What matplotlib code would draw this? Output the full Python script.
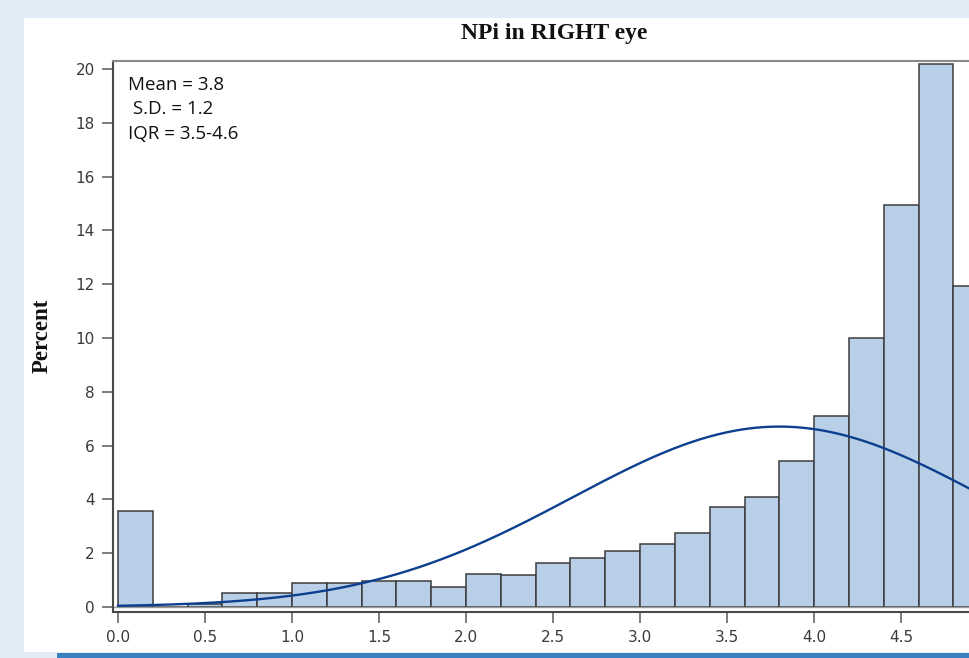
import numpy as np
import matplotlib
matplotlib.use("Agg")
import matplotlib.pyplot as plt
from matplotlib.patches import Rectangle

# Histogram of NPi (right eye), bin width 0.2
bin_edges = [0.0, 0.2, 0.4, 0.6, 0.8, 1.0, 1.2, 1.4, 1.6, 1.8, 2.0, 2.2, 2.4,
             2.6, 2.8, 3.0, 3.2, 3.4, 3.6, 3.8, 4.0, 4.2, 4.4, 4.6, 4.8, 5.0]
percent = [3.57, 0.0, 0.1, 0.52, 0.52, 0.87, 0.87, 0.98, 0.98, 0.73, 1.23, 1.18,
           1.62, 1.81, 2.09, 2.33, 2.75, 3.73, 4.10, 5.44, 7.10, 10.0, 14.94,
           20.19, 11.93]
mean_val = 3.8
sd_val = 1.19
bin_width = 0.2

x_ticks = [0.0, 0.5, 1.0, 1.5, 2.0, 2.5, 3.0, 3.5, 4.0, 4.5]
x_tick_labels = ["0.0", "0.5", "1.0", "1.5", "2.0", "2.5", "3.0", "3.5", "4.0", "4.5"]
y_ticks = [0, 2, 4, 6, 8, 10, 12, 14, 16, 18, 20]

W, H = 969, 658
fig = plt.figure(figsize=(W / 100, H / 100), dpi=100)
fig.patch.set_facecolor("#e2ecf7")

# white panel and blue strip along the bottom
fig.add_artist(Rectangle((24 / W, 1 - 652 / H), 1 - 24 / W, (652 - 18) / H,
                         transform=fig.transFigure, facecolor="white",
                         edgecolor="none", zorder=0))
fig.add_artist(Rectangle((57 / W, 0), 1 - 57 / W, 5.5 / H,
                         transform=fig.transFigure, facecolor="#3a80c0",
                         edgecolor="none", zorder=0))

ax_left, ax_right = 113 / W, 1.0
ax_bottom, ax_top = 1 - 612 / H, 1 - 61 / H
ax = fig.add_axes([ax_left, ax_bottom, ax_right - ax_left, ax_top - ax_bottom])
ax.set_facecolor("none")

lefts = np.array(bin_edges[:-1])
ax.bar(lefts, percent, width=bin_width, align="edge", color="#b8cfe7",
       edgecolor="#3c3c3c", linewidth=1.1, zorder=2)

xs = np.linspace(0.0, 5.0, 400)
curve = 100 * bin_width * np.exp(-0.5 * ((xs - mean_val) / sd_val) ** 2) / (sd_val * np.sqrt(2 * np.pi))
ax.plot(xs, curve, color="#0d3f8f", linewidth=1.7, zorder=3)

ax.axhline(0, color="#9a9a9a", linewidth=1.0, zorder=2.5)

ax.set_xlim(-0.029, 4.89)
ax.set_ylim(-0.19, 20.3)

ax.spines["right"].set_visible(False)
ax.spines["top"].set_color("#8a8a8a")
ax.spines["top"].set_linewidth(1.5)
ax.spines["left"].set_color("#4a4a4a")
ax.spines["left"].set_linewidth(1.5)
ax.spines["bottom"].set_color("#4a4a4a")
ax.spines["bottom"].set_linewidth(1.5)

tick_font = ["Liberation Sans Narrow", "DejaVu Sans"]
ax.set_xticks(x_ticks)
ax.set_xticklabels(x_tick_labels, family=tick_font, fontsize=11, color="#3a3a3a")
ax.set_yticks(y_ticks)
ax.set_yticklabels([str(v) for v in y_ticks], family=tick_font, fontsize=11, color="#3a3a3a")
ax.tick_params(axis="both", length=8, width=1.2, color="#666666", pad=5)

ax.text(128 / W, 1 - 76 / H, "Mean = 3.8\n S.D. = 1.2\nIQR = 3.5-4.6",
        transform=fig.transFigure, fontsize=13.5, family="Open Sans",
        va="top", ha="left", linespacing=1.45, color="#111111")

fig.text(554 / W, 1 - 33 / H, "NPi in RIGHT eye", ha="center", va="center",
         fontsize=17, fontweight="bold", family="Liberation Serif", color="#111111")
fig.text(42 / W, 1 - 336 / H, "Percent", ha="center", va="center", rotation=90,
         fontsize=16.5, fontweight="bold", family="Liberation Serif", color="#111111")

fig.savefig("out.png", dpi=100, facecolor=fig.get_facecolor())
